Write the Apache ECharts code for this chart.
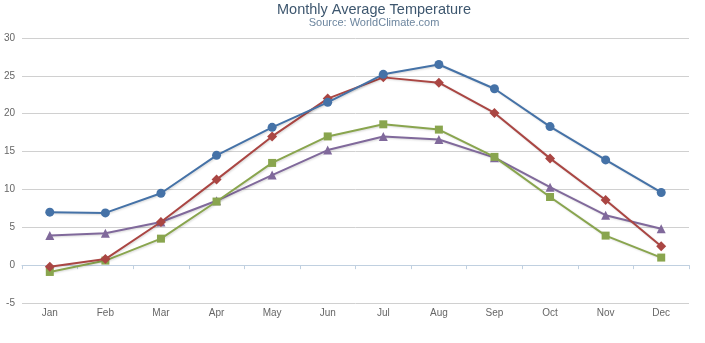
<!DOCTYPE html>
<html>
<head>
<meta charset="utf-8">
<script src="https://cdn.jsdelivr.net/npm/echarts@6/dist/echarts.min.js"></script>
<style>
html,body{margin:0;padding:0;background:#fff;}
#chart{width:705px;height:343px;}
</style>
</head>
<body>
<div id="chart"></div>
<script>
const categories = ['Jan','Feb','Mar','Apr','May','Jun','Jul','Aug','Sep','Oct','Nov','Dec'];
const tokyo = [7.0, 6.9, 9.5, 14.5, 18.2, 21.5, 25.2, 26.5, 23.3, 18.3, 13.9, 9.6];
const newYork = [-0.2, 0.8, 5.7, 11.3, 17.0, 22.0, 24.8, 24.1, 20.1, 14.1, 8.6, 2.5];
const berlin = [-0.9, 0.6, 3.5, 8.4, 13.5, 17.0, 18.6, 17.9, 14.3, 9.0, 3.9, 1.0];
const london = [3.9, 4.2, 5.7, 8.5, 11.9, 15.2, 17.0, 16.6, 14.2, 10.3, 6.6, 4.8];
const seriesNames = ['Tokyo','New York','Berlin','London'];
const yMin = -5, yMax = 30, yStep = 5;

const colors = ['#4572A7','#AA4643','#89A54E','#80699B'];
const symbols = ['circle','diamond','rect','triangle'];
const symbolSizes = [9, 10, 8, 9];
const data = [tokyo, newYork, berlin, london];
const font = '"Liberation Sans", Arial, sans-serif';

const chart = echarts.init(document.getElementById('chart'), null, {renderer:'canvas'});
chart.setOption({
  animation: false,
  title: {
    text: 'Monthly Average Temperature',
    subtext: 'Source: WorldClimate.com',
    left: 369,
    textAlign: 'center',
    top: -3,
    itemGap: 0,
    textStyle: {fontFamily: font, fontSize: 14.5, fontWeight: 'normal', color: '#3E576F'},
    subtextStyle: {fontFamily: font, fontSize: 11, color: '#6D869F'}
  },
  grid: {left: 22, right: 16, top: 38, bottom: 40, containLabel: false},
  xAxis: {
    type: 'category',
    data: categories,
    boundaryGap: true,
    axisLine: {show: true, lineStyle: {color: '#C0D0E0', width: 1}},
    axisTick: {show: true, length: 4, lineStyle: {color: '#C0D0E0'}},
    axisLabel: {fontFamily: font, fontSize: 10, color: '#666', margin: 5},
    splitLine: {show: false}
  },
  yAxis: {
    type: 'value',
    min: yMin, max: yMax, interval: yStep,
    axisLine: {show: false},
    axisTick: {show: false},
    axisLabel: {fontFamily: font, fontSize: 10, color: '#666', margin: 7},
    splitLine: {lineStyle: {color: '#D0D0D0', width: 1}}
  },
  series: data.map((d, i) => ({
    name: seriesNames[i],
    type: 'line',
    data: d,
    symbol: symbols[i],
    symbolSize: symbolSizes[i],
    showAllSymbol: true,
    itemStyle: {color: colors[i]},
    lineStyle: {color: colors[i], width: 2, shadowColor: 'rgba(0,0,0,0.15)', shadowBlur: 2, shadowOffsetX: 1, shadowOffsetY: 1},
    z: 10 - i
  }))
});
</script>
</body>
</html>
